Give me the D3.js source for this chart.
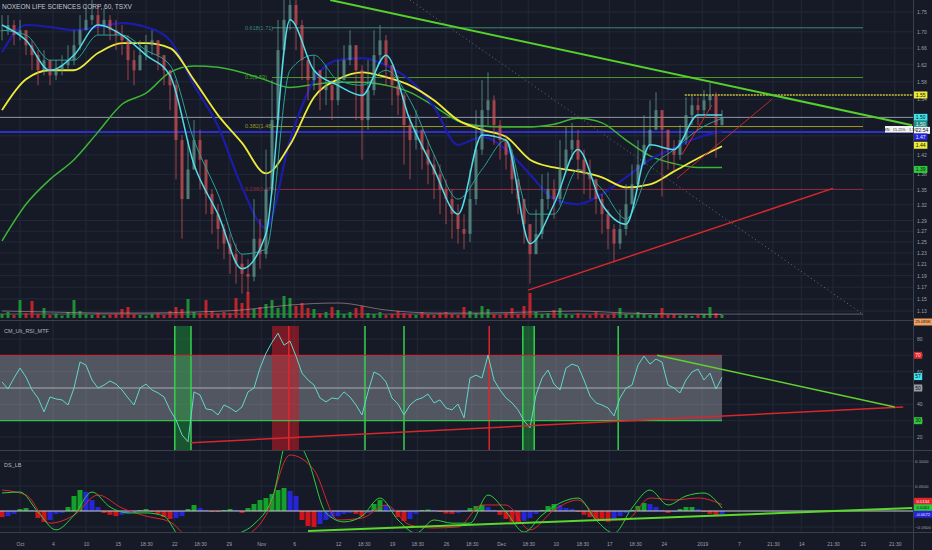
<!DOCTYPE html>
<html>
<head>
<meta charset="utf-8">
<script src="https://cdnjs.cloudflare.com/ajax/libs/d3/7.8.5/d3.min.js"></script>
<style>
  body { margin: 0; background: #151a26; overflow: hidden; }
  text { font-family: "Liberation Sans", Arial, sans-serif; }
</style>
</head>
<body>
<div id="chart"></div>
<script>
// hourly candles, one entry per bar
var closes = [1.704,1.717,1.692,1.704,1.667,1.643,1.607,1.631,1.595,1.607,
  1.619,1.631,1.667,1.704,1.730,1.742,1.717,1.730,1.704,1.692,
  1.679,1.631,1.607,1.643,1.667,1.679,1.643,1.607,1.572,1.451,
  1.331,1.390,1.451,1.410,1.341,1.302,1.274,1.247,1.228,1.211,
  1.193,1.188,1.256,1.228,1.350,1.494,1.655,1.730,1.768,1.717,
  1.631,1.584,1.607,1.561,1.572,1.538,1.584,1.631,1.667,1.607,
  1.494,1.561,1.643,1.679,1.619,1.572,1.549,1.483,1.451,1.473,
  1.431,1.400,1.380,1.350,1.331,1.302,1.274,1.265,1.331,1.431,
  1.516,1.538,1.483,1.451,1.420,1.370,1.331,1.283,1.228,1.265,
  1.331,1.350,1.331,1.390,1.431,1.451,1.410,1.380,1.370,1.331,
  1.302,1.274,1.247,1.274,1.321,1.360,1.400,1.441,1.473,1.516,
  1.473,1.431,1.420,1.451,1.505,1.527,1.516,1.538,1.549,1.483,
  1.500];
var highs = [1.742,1.742,1.730,1.730,1.704,1.679,1.655,1.655,1.631,1.631,
  1.643,1.667,1.704,1.742,1.768,1.781,1.768,1.760,1.742,1.730,
  1.717,1.692,1.655,1.679,1.692,1.704,1.679,1.643,1.607,1.584,
  1.462,1.451,1.494,1.473,1.410,1.350,1.321,1.283,1.265,1.247,
  1.228,1.219,1.331,1.293,1.431,1.584,1.730,1.781,1.781,1.781,
  1.730,1.643,1.643,1.607,1.619,1.584,1.631,1.667,1.704,1.667,
  1.619,1.631,1.704,1.717,1.692,1.619,1.595,1.556,1.505,1.516,
  1.473,1.451,1.420,1.400,1.370,1.350,1.321,1.302,1.390,1.516,
  1.584,1.602,1.549,1.494,1.462,1.431,1.370,1.331,1.283,1.311,
  1.380,1.384,1.370,1.451,1.479,1.488,1.473,1.431,1.410,1.370,
  1.341,1.311,1.283,1.311,1.360,1.400,1.451,1.505,1.538,1.556,
  1.516,1.473,1.451,1.483,1.545,1.549,1.545,1.561,1.577,1.556,
  1.516];
var lows = [1.679,1.692,1.667,1.679,1.643,1.607,1.572,1.595,1.572,1.584,
  1.595,1.607,1.619,1.655,1.704,1.717,1.692,1.692,1.679,1.655,
  1.643,1.584,1.572,1.607,1.631,1.643,1.607,1.572,1.516,1.370,
  1.256,1.331,1.390,1.350,1.302,1.265,1.237,1.219,1.193,1.176,
  1.159,1.159,1.180,1.202,1.220,1.340,1.480,1.655,1.704,1.655,
  1.584,1.538,1.561,1.516,1.527,1.494,1.527,1.584,1.619,1.494,
  1.410,1.473,1.549,1.631,1.572,1.527,1.505,1.400,1.370,1.431,
  1.390,1.360,1.331,1.302,1.283,1.256,1.247,1.237,1.250,1.320,
  1.420,1.483,1.441,1.410,1.390,1.341,1.302,1.247,1.176,1.228,
  1.255,1.311,1.293,1.320,1.390,1.410,1.370,1.341,1.331,1.302,
  1.265,1.237,1.213,1.237,1.262,1.321,1.360,1.400,1.431,1.473,
  1.336,1.390,1.386,1.410,1.441,1.483,1.483,1.505,1.516,1.414,
  1.483];
// volume in thousands
var volumes = [8,12,6,36,10,34,8,20,6,9,
  5,12,36,14,8,6,10,5,7,9,
  18,22,8,6,5,8,10,6,14,22,
  18,38,12,10,36,14,9,12,10,40,
  30,52,18,22,28,36,20,44,40,24,
  30,20,18,10,12,22,16,8,12,20,
  24,10,8,12,6,8,14,10,8,6,
  12,8,6,10,12,8,6,22,14,10,
  24,18,8,6,10,20,8,24,50,12,
  8,10,16,20,8,6,10,8,6,12,
  8,6,10,20,8,6,12,8,6,8,
  20,6,8,5,6,4,6,8,22,10,
  6];
// volume average, one value every 8 bars
var volAvg = [14,12,10,10,12,16,26,30,16,10,10,12,14,10,8,7];

// moving averages, one value every 4 bars
var maFast = [1.717,1.679,1.607,1.643,1.717,1.692,1.643,1.595,1.400,1.302,1.202,1.265,1.730,1.607,1.572,1.549,
  1.643,1.494,1.390,1.302,1.462,1.451,1.247,1.321,1.431,1.321,1.283,1.441,1.431,1.505,1.505];
var maSlow = [1.704,1.692,1.631,1.631,1.692,1.692,1.655,1.619,1.451,1.341,1.228,1.237,1.607,1.643,1.584,1.572,
  1.607,1.538,1.420,1.331,1.390,1.451,1.302,1.302,1.390,1.350,1.293,1.390,1.431,1.473,1.498];
var maBlue = [1.650,1.717,1.712,1.704,1.712,1.722,1.712,1.679,1.572,1.481,1.354,1.276,1.451,1.584,1.631,1.636,
  1.619,1.584,1.523,1.441,1.458,1.431,1.380,1.331,1.321,1.341,1.374,1.410,1.435,1.456,1.470];
var maYellow = [1.516,1.586,1.607,1.607,1.648,1.672,1.672,1.660,1.584,1.505,1.445,1.382,1.441,1.545,1.586,1.602,
  1.591,1.572,1.538,1.494,1.473,1.458,1.410,1.394,1.386,1.374,1.354,1.360,1.386,1.413,1.438];
var maGreen = [1.252,1.321,1.370,1.410,1.468,1.529,1.554,1.602,1.617,1.614,1.602,1.584,1.567,1.574,1.579,1.579,
  1.572,1.556,1.525,1.492,1.481,1.479,1.479,1.485,1.498,1.488,1.451,1.418,1.402,1.394,1.394];

// fibonacci retracement levels
var fibRatios = ["0.618", "0.5", "0.382", "0.236"];
var fibPrices = [1.71, 1.59, 1.48, 1.35];
var fibBase = 1.12;

// drawn trend lines as [bar index, price]
var trendGreen = [[54.7, 1.781], [151.7, 1.483]];
var trendRed = [[87.7, 1.165], [138.5, 1.352]];
var trendRedSteep = [[112.5, 1.372], [128.3, 1.54]];
var trendRedShort = [[113.3, 1.42], [118.3, 1.527]];
var trendDotted = [[68, 1.781], [143.3, 1.126]];
var resistance = 1.55;
var resistanceFrom = 113.8;
var levelGrey = 1.50;
var levelBlue = 1.468;

// RSI (one per bar) and its signal zones
var rsi = [53.7,49.4,56.1,62.2,56.7,48.8,43.9,35.4,44.5,43.3,
  42.7,39.6,50.0,65.9,64.0,54.9,50.0,51.8,54.3,52.4,
  48.8,43.9,39.6,50.0,52.4,48.8,47.0,44.5,36.6,30.5,
  21.3,17.1,47.6,45.7,37.2,36.6,33.5,39.6,37.8,35.4,
  38.4,47.6,50.0,62.2,71.3,78.0,83.5,76.2,78.7,69.5,
  59.1,54.9,51.8,43.9,41.5,43.9,43.3,47.6,44.5,39.6,
  33.5,47.6,59.8,57.9,53.7,43.9,40.2,33.5,39.6,42.7,
  43.9,46.3,40.9,42.7,37.8,36.6,40.2,31.7,56.1,57.9,
  56.1,70.1,54.9,48.8,43.9,40.9,36.6,29.9,25.6,45.7,
  56.1,61.0,52.4,48.8,62.2,64.6,63.4,54.9,45.1,40.9,
  39.6,37.8,32.9,43.9,50.0,51.8,64.0,69.5,64.6,67.7,
  65.9,51.8,50.0,47.0,54.9,59.8,61.6,54.9,59.1,49.4,
  56.5];
var rsiGreenZones = [[28.8, 31.5], [86.8, 88.7]];
var rsiRedZones = [[45, 49.5]];
var rsiGreenMarks = [60.5, 67, 102.7];
var rsiRedMarks = [47.8, 81.2];
var rsiTrendRed = [[31.5, 16.5], [150.2, 38.4]];
var rsiTrendGreen = [[109.2, 70.1], [148.8, 38.4]];

// DS_LB histogram (one per bar, in 1/1000) and its two lines
var dsHist = [-19,-16,-9,4,6,2,-22,-34,-28,-9,
  -6,8,30,42,38,22,8,-6,-12,-16,
  -12,-9,-6,2,4,-3,-9,-19,-25,-22,
  -16,4,12,6,2,-3,-3,2,4,2,
  -6,6,14,22,26,34,42,46,40,30,
  -28,-47,-50,-41,-28,-22,-16,-9,-6,-9,
  -16,-6,14,22,12,4,-19,-31,-25,-9,
  2,3,2,-3,-8,-9,-6,-3,6,10,
  12,8,2,-12,-25,-34,-38,-31,-22,-9,
  2,10,14,12,6,4,-3,-12,-19,-25,
  -31,-34,-28,-16,-6,2,10,16,14,8,
  2,-6,-3,4,8,8,4,-3,-9,-12,
  -11];
// one value every 3 bars
var dsFast = [0.036,0.038,-0.003,-0.059,-0.013,0.038,0.008,-0.006,-0.006,-0.016,
  -0.084,-0.084,-0.081,-0.072,-0.041,0.024,0.158,0.102,-0.006,-0.034,
  -0.016,0.026,-0.028,-0.069,-0.028,-0.038,-0.038,0.032,-0.003,-0.066,
  -0.013,0.016,0.026,-0.028,-0.069,0.006,0.042,0.012,0.030,0.036,
  0.006];
// one value every 4 bars
var dsSlow = [0.042,0.032,-0.038,-0.013,0.032,0.006,-0.016,-0.034,-0.091,-0.091,
  -0.081,-0.013,0.112,0.082,-0.028,-0.022,0.012,-0.044,-0.053,-0.050,
  0.012,0.012,-0.059,0.002,0.022,-0.028,-0.028,0.026,0.022,0.026,
  0.013];
var dsTrend = [[51, -0.0625], [151.7, 0.006]];

// axis ticks
var priceTicks = [1.75,1.70,1.66,1.62,1.58,1.54,1.50,1.46,1.42,1.38,1.35,1.32,1.29,1.27,1.25,1.23,1.21,1.19,1.17,1.15,1.13];
var rsiTicks = [80,70,60,50,40,30,20];
var dsTicks = [0.1,0.05,-0.05];
var timeIdx = [3,8.5,14,19.3,24,28.7,33,37.8,43.2,48.7,56,60.3,65,69.2,74,78.3,83.2,87.7,92.3,96.7,
  101.2,105.5,110.3,116.7,122.8,128.5,133.2,138.5,143.5,148.8];
var timeLabels = ["Oct","4","10","15","18:30","22","18:30","29","Nov","6","12","18:30","19","18:30","26","18:30",
  "Dec","18:30","10","18:30","17","18:30","24","2019","7","21:30","14","21:30","21","21:30"];

// Svg size and pane layout
var svgWidth = 932;
var svgHeight = 550;
var plotRight = 913;

var svg = d3.select("#chart")
  .append("svg")
  .attr("width", svgWidth)
  .attr("height", svgHeight);

svg.append("rect")
  .attr("width", svgWidth)
  .attr("height", svgHeight)
  .attr("fill", "#151a26");

// scales
var x = d3.scaleLinear().domain([0, 120]).range([2, 722]);
var yPrice = d3.scaleLog().domain([1.75, 1.13]).range([12, 311]);
var yVol = d3.scaleLinear().domain([0, 60]).range([318, 288]);
var yRsi = d3.scaleLinear().domain([80, 20]).range([339, 437]);
var yDs = d3.scaleLinear().domain([0.1, 0, -0.05]).range([461, 511, 527]);

// clip paths for the three panes
var defs = svg.append("defs");
[["clipPrice", 0, 320], ["clipRsi", 321, 450], ["clipDs", 451, 532]].forEach(function(c) {
  defs.append("clipPath").attr("id", c[0])
    .append("rect").attr("x", 0).attr("y", c[1]).attr("width", plotRight).attr("height", c[2] - c[1]);
});

// grid
var grid = svg.append("g").attr("stroke", "#232838").attr("stroke-width", 1);
timeIdx.forEach(function(d) {
  grid.append("line").attr("x1", x(d)).attr("x2", x(d)).attr("y1", 0).attr("y2", 532);
});
priceTicks.forEach(function(d) {
  grid.append("line").attr("x1", 0).attr("x2", plotRight).attr("y1", yPrice(d)).attr("y2", yPrice(d));
});
rsiTicks.forEach(function(d) {
  grid.append("line").attr("x1", 0).attr("x2", plotRight).attr("y1", yRsi(d)).attr("y2", yRsi(d));
});
dsTicks.forEach(function(d) {
  grid.append("line").attr("x1", 0).attr("x2", plotRight).attr("y1", yDs(d)).attr("y2", yDs(d));
});

// ---------- price pane ----------
var pricePane = svg.append("g").attr("clip-path", "url(#clipPrice)");

function seg(g, pts, yScale, color, width, dash) {
  g.append("line")
    .attr("x1", x(pts[0][0])).attr("y1", yScale(pts[0][1]))
    .attr("x2", x(pts[1][0])).attr("y2", yScale(pts[1][1]))
    .attr("stroke", color).attr("stroke-width", width)
    .attr("stroke-dasharray", dash || null);
}

// fib 0 level and dotted diagonal
pricePane.append("line")
  .attr("x1", 0).attr("x2", x(143.5)).attr("y1", yPrice(fibBase) - 3).attr("y2", yPrice(fibBase) - 3)
  .attr("stroke", "#5d616c").attr("stroke-width", 1);
seg(pricePane, trendDotted, yPrice, "#6a6e78", 1, "1,3");

// fib levels
var fibColors = ["#3f8a72", "#4c9a2a", "#9a9a2c", "#8c2c40"];
fibPrices.forEach(function(p, k) {
  pricePane.append("line")
    .attr("x1", x(45)).attr("x2", x(143.5))
    .attr("y1", yPrice(p)).attr("y2", yPrice(p))
    .attr("stroke", fibColors[k]).attr("stroke-width", 1);
  pricePane.append("text")
    .attr("x", x(40.5)).attr("y", yPrice(p)).attr("dy", "0.35em")
    .attr("fill", fibColors[k]).style("font-size", "5.5px")
    .text(fibRatios[k] + "(" + d3.format(".2f")(p) + ")");
});

// horizontal levels
pricePane.append("line")
  .attr("x1", 0).attr("x2", plotRight).attr("y1", yPrice(levelGrey)).attr("y2", yPrice(levelGrey))
  .attr("stroke", "#8f95a0").attr("stroke-width", 1);
pricePane.append("line")
  .attr("x1", 0).attr("x2", plotRight).attr("y1", yPrice(levelBlue)).attr("y2", yPrice(levelBlue))
  .attr("stroke", "#2b31c4").attr("stroke-width", 2);
pricePane.append("line")
  .attr("x1", x(resistanceFrom)).attr("x2", plotRight).attr("y1", yPrice(resistance)).attr("y2", yPrice(resistance))
  .attr("stroke", "#c8c23a").attr("stroke-width", 1.5).attr("stroke-dasharray", "2,1");

// volume bars
pricePane.selectAll(".vol")
  .data(volumes)
  .enter()
  .append("rect")
  .attr("x", function(d, i) { return x(i) - 1.5; })
  .attr("y", function(d) { return yVol(d); })
  .attr("width", 3)
  .attr("height", function(d) { return yVol(0) - yVol(d); })
  .attr("fill", function(d, i) { return (i === 0 || closes[i] >= closes[i - 1]) ? "#1f9a38" : "#d0262a"; })
  .attr("opacity", 0.9);

pricePane.append("path")
  .datum(volAvg)
  .attr("d", d3.line().x(function(d, k) { return x(k * 8); }).y(function(d) { return yVol(d); }).curve(d3.curveMonotoneX))
  .attr("fill", "none").attr("stroke", "#c9a0a8").attr("stroke-width", 0.8).attr("opacity", 0.7);

// moving averages
function maLine(g, values, step, yScale, color, width) {
  var line = d3.line()
    .x(function(d, k) { return x(k * step); })
    .y(function(d) { return yScale(d); })
    .curve(d3.curveMonotoneX);
  g.append("path")
    .datum(values)
    .attr("d", line)
    .attr("fill", "none")
    .attr("stroke", color)
    .attr("stroke-width", width);
}
maLine(pricePane, maGreen, 4, yPrice, "#3bb534", 1.5);
maLine(pricePane, maBlue, 4, yPrice, "#1c1ca8", 2.2);
maLine(pricePane, maYellow, 4, yPrice, "#eeea3a", 1.8);

// candles
var candles = pricePane.selectAll(".candle")
  .data(closes)
  .enter()
  .append("g")
  .attr("opacity", 0.7);

function candleColor(d, i) {
  var open = i === 0 ? closes[0] : closes[i - 1];
  return d >= open ? "#6aa59a" : "#e0555c";
}
candles.append("line")
  .attr("x1", function(d, i) { return x(i); })
  .attr("x2", function(d, i) { return x(i); })
  .attr("y1", function(d, i) { return yPrice(highs[i]); })
  .attr("y2", function(d, i) { return yPrice(lows[i]); })
  .attr("stroke", candleColor)
  .attr("stroke-width", 1);
candles.append("rect")
  .attr("x", function(d, i) { return x(i) - 1.5; })
  .attr("width", 3)
  .attr("y", function(d, i) {
    var open = i === 0 ? closes[0] : closes[i - 1];
    return Math.min(yPrice(open), yPrice(d));
  })
  .attr("height", function(d, i) {
    var open = i === 0 ? closes[0] : closes[i - 1];
    return Math.max(1, Math.abs(yPrice(open) - yPrice(d)));
  })
  .attr("fill", candleColor);

maLine(pricePane, maSlow, 4, yPrice, "#2aa198", 1);
maLine(pricePane, maFast, 4, yPrice, "#52dbe8", 1.5);

// trend lines
seg(pricePane, trendGreen, yPrice, "#56d02c", 2);
seg(pricePane, trendRed, yPrice, "#d6282c", 1.5);
seg(pricePane, trendRedSteep, yPrice, "#c0282c", 1);
seg(pricePane, trendRedShort, yPrice, "#d6282c", 1);

// title
svg.append("text")
  .attr("x", 2).attr("y", 9)
  .attr("fill", "#c4c7cf").style("font-size", "6.5px")
  .text("NOXEON LIFE SCIENCES CORP, 60, TSXV");

// ---------- RSI pane ----------
var rsiPane = svg.append("g").attr("clip-path", "url(#clipRsi)");

rsiPane.append("rect")
  .attr("x", 0).attr("width", x(120))
  .attr("y", yRsi(70)).attr("height", yRsi(30) - yRsi(70))
  .attr("fill", "#d4d7df").attr("opacity", 0.32);
rsiPane.append("line")
  .attr("x1", 0).attr("x2", x(120)).attr("y1", yRsi(50)).attr("y2", yRsi(50))
  .attr("stroke", "#b9bcc4").attr("stroke-width", 0.8);

rsiGreenZones.forEach(function(z) {
  rsiPane.append("rect")
    .attr("x", x(z[0])).attr("width", x(z[1]) - x(z[0]))
    .attr("y", 326).attr("height", 124)
    .attr("fill", "#1e9e3a").attr("opacity", 0.45);
  z.forEach(function(v) {
    rsiPane.append("line").attr("x1", x(v)).attr("x2", x(v)).attr("y1", 326).attr("y2", 450)
      .attr("stroke", "#34d04a").attr("stroke-width", 1.5);
  });
});
rsiRedZones.forEach(function(z) {
  rsiPane.append("rect")
    .attr("x", x(z[0])).attr("width", x(z[1]) - x(z[0]))
    .attr("y", 326).attr("height", 124)
    .attr("fill", "#c81c24").attr("opacity", 0.55);
});
rsiGreenMarks.forEach(function(v) {
  rsiPane.append("line").attr("x1", x(v)).attr("x2", x(v)).attr("y1", 326).attr("y2", 450)
    .attr("stroke", "#34d04a").attr("stroke-width", 1.5);
});
rsiRedMarks.forEach(function(v) {
  rsiPane.append("line").attr("x1", x(v)).attr("x2", x(v)).attr("y1", 326).attr("y2", 450)
    .attr("stroke", "#e0262c").attr("stroke-width", 1.5);
});

rsiPane.append("line")
  .attr("x1", 0).attr("x2", x(120)).attr("y1", yRsi(70)).attr("y2", yRsi(70))
  .attr("stroke", "#d02a30").attr("stroke-width", 1);
rsiPane.append("line")
  .attr("x1", 0).attr("x2", x(120)).attr("y1", yRsi(30)).attr("y2", yRsi(30))
  .attr("stroke", "#34c048").attr("stroke-width", 1.2);

rsiPane.append("path")
  .datum(rsi)
  .attr("d", d3.line().x(function(d, i) { return x(i); }).y(function(d) { return yRsi(d); }))
  .attr("fill", "none").attr("stroke", "#62d6ca").attr("stroke-width", 1);

seg(rsiPane, rsiTrendRed, yRsi, "#d6282c", 1.5);
seg(rsiPane, rsiTrendGreen, yRsi, "#62d030", 1.5);

svg.append("text")
  .attr("x", 4).attr("y", 333)
  .attr("fill", "#b4b7bf").style("font-size", "5.5px")
  .text("CM_Ult_RSI_MTF");

// ---------- DS_LB pane ----------
var dsPane = svg.append("g").attr("clip-path", "url(#clipDs)");

dsPane.selectAll(".hist")
  .data(dsHist)
  .enter()
  .append("rect")
  .attr("x", function(d, i) { return x(i) - 2.5; })
  .attr("width", 5)
  .attr("y", function(d) { return Math.min(yDs(d / 1000), yDs(0)); })
  .attr("height", function(d) { return Math.abs(yDs(d / 1000) - yDs(0)); })
  .attr("fill", function(d, i) {
    var prev = i === 0 ? d : dsHist[i - 1];
    if (d >= 0) return d >= prev ? "#15a02a" : "#2626d8";
    return d <= prev ? "#d0141c" : "#2626d8";
  });

dsPane.append("line")
  .attr("x1", 0).attr("x2", plotRight).attr("y1", yDs(0)).attr("y2", yDs(0))
  .attr("stroke", "#c9cbd2").attr("stroke-width", 1.2);

maLine(dsPane, dsSlow, 4, yDs, "#d8262c", 1);
maLine(dsPane, dsFast, 3, yDs, "#2ed03a", 1);
seg(dsPane, dsTrend, yDs, "#5ad82c", 2);

svg.append("text")
  .attr("x", 4).attr("y", 467)
  .attr("fill", "#b4b7bf").style("font-size", "5.5px")
  .text("DS_LB");

// ---------- separators and axes ----------
var sep = svg.append("g").attr("stroke", "#3a3f4c").attr("stroke-width", 1);
[320.5, 450.5, 532.5].forEach(function(y) {
  sep.append("line").attr("x1", 0).attr("x2", svgWidth).attr("y1", y).attr("y2", y);
});
sep.append("line").attr("x1", plotRight + 0.5).attr("x2", plotRight + 0.5).attr("y1", 0).attr("y2", 550);

function styleAxis(g) {
  g.select(".domain").remove();
  g.selectAll("text").attr("fill", "#9ea1aa").style("font-size", "5px");
}

svg.append("g")
  .attr("transform", "translate(" + plotRight + ",0)")
  .call(d3.axisRight(yPrice).tickValues(priceTicks).tickFormat(d3.format(".2f")).tickSize(0).tickPadding(4))
  .call(styleAxis);
svg.append("g")
  .attr("transform", "translate(" + plotRight + ",0)")
  .call(d3.axisRight(yRsi).tickValues(rsiTicks).tickFormat(d3.format("d")).tickSize(0).tickPadding(4))
  .call(styleAxis);
svg.append("g")
  .attr("transform", "translate(" + plotRight + ",0)")
  .call(d3.axisRight(yDs).tickValues(dsTicks).tickFormat(d3.format(".4f")).tickSize(0).tickPadding(2))
  .call(styleAxis)
  .selectAll("text").style("font-size", "4.4px");
svg.append("g")
  .attr("transform", "translate(0,533)")
  .call(d3.axisBottom(x).tickValues(timeIdx).tickSize(0).tickPadding(9)
    .tickFormat(function(d, i) { return timeLabels[i]; }))
  .call(styleAxis);

// ---------- last value badges ----------
function badge(y, label, bg, fg) {
  var w = Math.min(18, 3 + label.length * 2.6);
  var fs = label.length > 5 ? 4.2 : 5;
  var b = svg.append("g").attr("transform", "translate(" + (plotRight + 1) + "," + y + ")");
  b.append("rect").attr("x", 0).attr("y", -3.5).attr("width", w).attr("height", 7).attr("fill", bg);
  b.append("text").attr("x", w / 2).attr("dy", "0.35em").attr("text-anchor", "middle")
    .attr("fill", fg).style("font-size", fs + "px").text(label);
}
function stack(list, gap) {
  list.sort(function(a, b) { return a.y - b.y; });
  for (var k = 1; k < list.length; k++) {
    if (list[k].y < list[k - 1].y + gap) list[k].y = list[k - 1].y + gap;
  }
  list.forEach(function(b) { badge(b.y, b.t, b.bg, b.fg); });
}

stack([
  { y: yPrice(1.55), t: "1.55", bg: "#eeea3a", fg: "#111" },
  { y: yPrice(1.50), t: "1.50", bg: "#3fe3ee", fg: "#111" },
  { y: yPrice(1.50) + 0.1, t: "1.50", bg: "#1f8f88", fg: "#eee" },
  { y: yPrice(1.50) + 0.2, t: "22:54", bg: "#f2f2f2", fg: "#222" },
  { y: yPrice(1.47), t: "1.47", bg: "#2424d8", fg: "#eee" },
  { y: yPrice(1.44), t: "1.44", bg: "#eeea3a", fg: "#111" },
  { y: yPrice(1.39), t: "1.39", bg: "#2ec83a", fg: "#111" }
], 6.5);

// price line tag inside the plot
svg.append("rect").attr("x", 885).attr("y", 126).attr("width", 28).attr("height", 6.5).attr("fill", "#f4f4f4");
svg.append("text").attr("x", 899).attr("y", 129.3).attr("dy", "0.35em").attr("text-anchor", "middle")
  .attr("fill", "#222").style("font-size", "3.8px").text("NXN · 15.25% · 1.50");

badge(yVol(0) + 4, "25.085K", "#f0a060", "#222");

stack([
  { y: yRsi(70), t: "70", bg: "#e0262c", fg: "#eee" },
  { y: yRsi(57), t: "57", bg: "#3fe3ee", fg: "#111" },
  { y: yRsi(50), t: "50", bg: "#9a9da6", fg: "#111" },
  { y: yRsi(30), t: "30", bg: "#2ec83a", fg: "#111" }
], 7);

stack([
  { y: yDs(0.0134) - 3, t: "0.0134", bg: "#e0262c", fg: "#eee" },
  { y: yDs(0.0061) - 3, t: "0.0061", bg: "#2ec83a", fg: "#111" },
  { y: yDs(-0.0072) - 3, t: "-0.0072", bg: "#2424d8", fg: "#eee" }
], 6.5);
</script>
</body>
</html>
